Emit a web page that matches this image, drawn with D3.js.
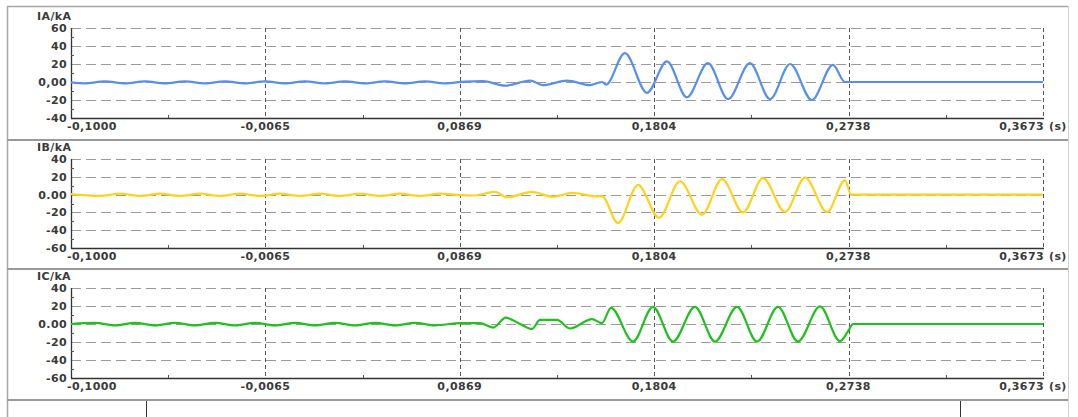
<!DOCTYPE html>
<html>
<head>
<meta charset="utf-8">
<script src="https://cdn.jsdelivr.net/npm/d3@7"></script>
<style>
html,body{margin:0;padding:0;background:#fff;}
svg{display:block;}
text{font-family:"DejaVu Sans",sans-serif;}
</style>
</head>
<body>
<svg id="chart" width="1078" height="417"></svg>
<script>
// ---- data (time in s, current in kA) ----
const xTickValues = [-0.1, -0.0065, 0.0869, 0.1804, 0.2738, 0.3673];
const xTickLabels = ["-0,1000", "-0,0065", "0,0869", "0,1804", "0,2738", "0,3673"];
const xUnit = "(s)";

const seriesNames = ["IA/kA", "IB/kA", "IC/kA"];
const seriesColors = ["#5a8fe6", "#ffd21f", "#22bf22"];

const yTicksA = [60, 40, 20, 0, -20, -40];
const yTickLabelsA = ["60", "40", "20", "0,00", "-20", "-40"];
const yTicksB = [40, 20, 0, -20, -40, -60];
const yTickLabelsB = ["40", "20", "0.00", "-20", "-40", "-60"];
const yTicksC = [40, 20, 0, -20, -40, -60];
const yTickLabelsC = ["40", "20", "0.00", "-20", "-40", "-60"];

const timeA = [-0.1000,-0.0933,-0.0837,-0.0740,-0.0644,-0.0548,-0.0452,-0.0356,-0.0260,-0.0163,-0.0067,0.0029,0.0125,0.0221,0.0317,0.0414,0.0510,0.0606,0.0702,0.0798,0.0894,0.0980,0.1087,0.1207,0.1269,0.1385,0.1495,0.1553,0.1572,0.1663,0.1769,0.1865,0.1961,0.2062,0.2159,0.2264,0.2361,0.2457,0.2562,0.2663,0.2721,0.3673];
const valueA = [-0.5,-1.5,0.8,-1.5,0.8,-1.5,0.8,-1.5,0.8,-1.5,0.8,-1.5,0.8,-1.5,0.8,-1.5,0.8,-1.5,0.8,-1.5,0.5,1.0,-4,1.5,-3.5,1.5,-3.5,0,-3,32,-12,23,-17,21,-19,21,-19,20,-20,19,0,0];

const timeB = [-0.1000,-0.0861,-0.0764,-0.0668,-0.0572,-0.0476,-0.0380,-0.0284,-0.0187,-0.0091,0.0005,0.0101,0.0197,0.0294,0.0390,0.0486,0.0582,0.0678,0.0774,0.0871,0.0933,0.1038,0.1096,0.1216,0.1317,0.1409,0.1529,0.1553,0.1630,0.1726,0.1827,0.1928,0.2034,0.2130,0.2231,0.2327,0.2433,0.2529,0.2635,0.2721,0.2750,0.3673];
const valueB = [0.5,-1.5,1.0,-1.5,1.0,-1.5,1.0,-1.5,1.0,-1.5,1.0,-1.5,1.0,-1.5,1.0,-1.5,1.0,-1.5,1.0,-0.5,-1,3,-3,3,-2.5,2,-2,-2,-32,11,-26,15,-22.5,17.5,-20,18.5,-19.5,19,-19.5,16,0,0];

const timeC = [-0.1000,-0.0885,-0.0788,-0.0692,-0.0596,-0.0500,-0.0404,-0.0308,-0.0212,-0.0115,-0.0019,0.0077,0.0173,0.0269,0.0365,0.0462,0.0558,0.0654,0.0750,0.0870,0.0966,0.1029,0.1091,0.1159,0.1216,0.1255,0.1337,0.1399,0.1505,0.1553,0.1596,0.1702,0.1798,0.1894,0.2000,0.2096,0.2202,0.2298,0.2399,0.2495,0.2601,0.2697,0.2736,0.2760,0.3673];
const valueC = [0,1.2,-1.5,1.2,-1.5,1.2,-1.5,1.2,-1.5,1.2,-1.5,1.2,-1.5,1.2,-1.5,1.2,-1.5,1.2,-1.5,1,1,-4,7,0,-5.5,4.5,4.5,-5,5.5,1,18,-19.5,19,-19.5,19,-19.5,19,-19.5,19,-19.5,19.5,-19,-8,0,0];

// ---- layout ----
const W = 1078, H = 417;
const plotLeft = 71, plotRight = 1043;
const panels = [
  {name: seriesNames[0], color: seriesColors[0], t: timeA, v: valueA, ticks: yTicksA, labels: yTickLabelsA, top: 28, bottom: 118},
  {name: seriesNames[1], color: seriesColors[1], t: timeB, v: valueB, ticks: yTicksB, labels: yTickLabelsB, top: 159, bottom: 248},
  {name: seriesNames[2], color: seriesColors[2], t: timeC, v: valueC, ticks: yTicksC, labels: yTickLabelsC, top: 288, bottom: 378}
];

const svg = d3.select("#chart");
svg.append("rect").attr("width", W).attr("height", H).attr("fill", "#fff");

// frame
const frame = svg.append("g");
frame.append("line").attr("x1", 7).attr("x2", 1068).attr("y1", 6.5).attr("y2", 6.5).attr("stroke", "#a8a8a8").attr("stroke-width", 1.5);
frame.append("line").attr("x1", 7.5).attr("x2", 7.5).attr("y1", 6).attr("y2", H).attr("stroke", "#a8a8a8").attr("stroke-width", 1.5);
frame.append("line").attr("x1", 1068.5).attr("x2", 1068.5).attr("y1", 6).attr("y2", H).attr("stroke", "#d0d0d0").attr("stroke-width", 1);
[140, 269, 400].forEach(y => {
  frame.append("line").attr("x1", 7).attr("x2", 1068).attr("y1", y).attr("y2", y).attr("stroke", "#9a9a9a").attr("stroke-width", 2);
});
[146.5, 960.5].forEach(x => {
  frame.append("line").attr("x1", x).attr("x2", x).attr("y1", 401).attr("y2", H).attr("stroke", "#333").attr("stroke-width", 1);
});

const x = d3.scaleLinear().domain([xTickValues[0], xTickValues[xTickValues.length - 1]]).range([plotLeft, plotRight]);
const textStyle = sel => sel.attr("font-size", 11).attr("font-weight", "bold").attr("fill", "#3a3a3a").attr("letter-spacing", "0.4px");

panels.forEach(p => {
  const ext = d3.extent(p.ticks);
  const y = d3.scaleLinear().domain(ext).range([p.bottom, p.top]);
  const g = svg.append("g");

  // horizontal dashed grid
  g.selectAll(".hg").data(p.ticks.filter(d => d !== ext[0])).join("line")
    .attr("x1", plotLeft).attr("x2", plotRight)
    .attr("y1", d => Math.round(y(d)) + 0.5).attr("y2", d => Math.round(y(d)) + 0.5)
    .attr("stroke", "#9a9a9a").attr("stroke-width", 1).attr("stroke-dasharray", "10,5");

  // vertical dashed grid
  g.selectAll(".vg").data(xTickValues.slice(1)).join("line")
    .attr("x1", d => Math.round(x(d)) + 0.5).attr("x2", d => Math.round(x(d)) + 0.5)
    .attr("y1", p.top).attr("y2", p.bottom)
    .attr("stroke", "#555").attr("stroke-width", 1).attr("stroke-dasharray", "4,3");

  // axes lines
  g.append("line").attr("x1", plotLeft + 0.5).attr("x2", plotLeft + 0.5).attr("y1", p.top).attr("y2", p.bottom + 0.5)
    .attr("stroke", "#333").attr("stroke-width", 1.3);
  g.append("line").attr("x1", plotLeft).attr("x2", plotRight + 1).attr("y1", p.bottom + 0.5).attr("y2", p.bottom + 0.5)
    .attr("stroke", "#333").attr("stroke-width", 1.3);

  // minor ticks
  const yMinor = d3.range(ext[0] + 10, ext[1], 20);
  g.selectAll(".ym").data(yMinor).join("line")
    .attr("x1", plotLeft).attr("x2", plotLeft + 3)
    .attr("y1", d => Math.round(y(d)) + 0.5).attr("y2", d => Math.round(y(d)) + 0.5)
    .attr("stroke", "#555");
  const xMinor = d3.pairs(xTickValues).map(([a, b]) => (a + b) / 2);
  g.selectAll(".xm").data(xMinor).join("line")
    .attr("x1", d => Math.round(x(d)) + 0.5).attr("x2", d => Math.round(x(d)) + 0.5)
    .attr("y1", p.bottom - 3).attr("y2", p.bottom)
    .attr("stroke", "#555");

  // y tick labels
  g.selectAll(".yl").data(p.ticks).join("text")
    .attr("x", 67).attr("y", d => y(d)).attr("dy", "0.36em")
    .attr("text-anchor", "end").text((d, i) => p.labels[i]).call(textStyle);

  // x tick labels
  g.selectAll(".xl").data(xTickValues).join("text")
    .attr("x", (d, i) => i === 0 ? x(d) - 4 : (i === xTickValues.length - 1 ? x(d) + 1 : x(d)))
    .attr("y", p.bottom + 12)
    .attr("text-anchor", (d, i) => i === 0 ? "start" : (i === xTickValues.length - 1 ? "end" : "middle"))
    .text((d, i) => xTickLabels[i]).call(textStyle);
  g.append("text").attr("x", plotRight + 6).attr("y", p.bottom + 12).text(xUnit).call(textStyle);

  // series name
  g.append("text").attr("x", 37).attr("y", p.top - 8).text(p.name).call(textStyle);

  // waveform
  const pts = p.t.map((t, i) => [t, p.v[i]]);
  const line = d3.line().x(d => x(d[0])).y(d => y(d[1])).curve(d3.curveMonotoneX);
  g.append("path").attr("d", line(pts)).attr("fill", "none")
    .attr("stroke", p.color).attr("stroke-width", 2.2).attr("stroke-linejoin", "round");
});
</script>
</body>
</html>
